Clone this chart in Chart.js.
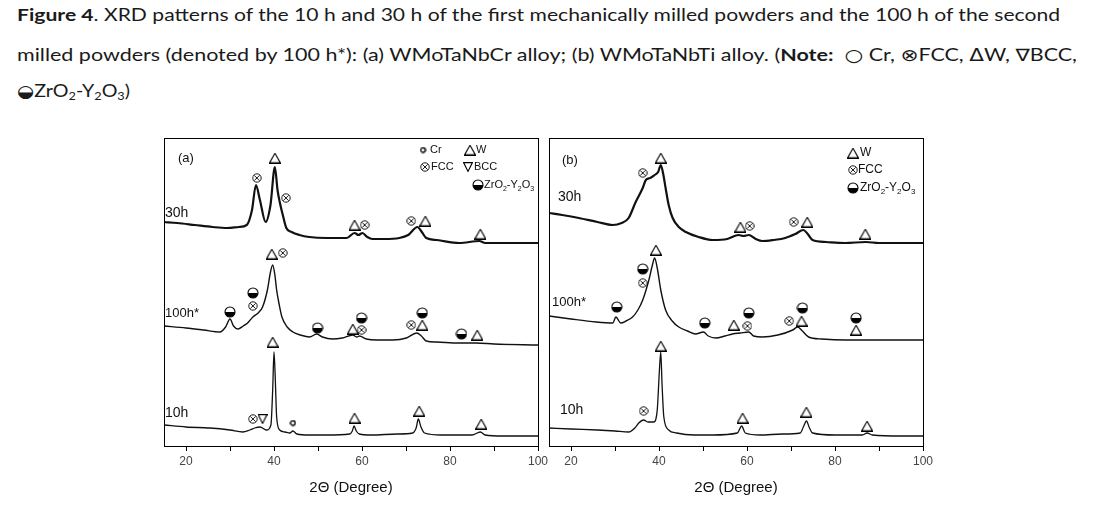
<!DOCTYPE html>
<html lang="en">
<head>
<meta charset="UTF-8">
<title>Figure 4 XRD patterns</title>
<script src="https://cdn.jsdelivr.net/npm/chart.js"></script>
<style>
    body { margin: 0; background: #fff; width: 1113px; height: 506px; overflow: hidden; position: relative; }
    .cap {
        position: absolute; left: 17px; white-space: nowrap;
        font-family: Lato, "Open Sans", sans-serif; font-size: 17px; line-height: 17px;
        color: #1a1a1a; transform-origin: 0 0;
    }
    .cap b { font-weight: 700; }
    .sym { font-family: "DejaVu Sans", sans-serif; font-size: 17px; }
    .cap sub { font-size: 11px; vertical-align: -3px; line-height: 0; }
    canvas { position: absolute; top: 128px; }
</style>
</head>
<body>
<div class="cap" style="top:6px" data-w="1043"><b>Figure 4</b>. XRD patterns of the 10 h and 30 h of the first mechanically milled powders and the 100 h of the second</div>
<div class="cap" style="top:46px" data-w="1060">milled powders (denoted by 100 h*): (a) WMoTaNbCr alloy; (b) WMoTaNbTi alloy. (<b>Note:</b> &nbsp;<span class="sym">○</span> Cr, <span class="sym">⊗</span>FCC, <span class="sym">Δ</span>W, <span class="sym">∇</span>BCC,</div>
<div class="cap" style="top:82px" data-w="113"><span class="sym">◒</span>ZrO<sub>2</sub>-Y<sub>2</sub>O<sub>3</sub>)</div>

<canvas id="panelA" width="420" height="378" style="left:140px"></canvas>
<canvas id="panelB" width="420" height="378" style="left:525px"></canvas>

<script>
// x ticks shared by both panels (2theta, degrees)
const tickVals = [20, 30, 40, 50, 60, 70, 80, 90, 100];

// ---- panel (a) WMoTaNbCr ----
const a30Deg = [15, 18, 22, 26, 29.3, 32, 33.8, 35, 35.9, 36.8, 38.1, 39.2, 40.2, 40.8, 41.3, 42, 42.8, 44, 45.8, 48, 52, 56.5, 58.3, 59.2, 60.1, 61.2, 62.4, 65, 68.5, 70.5, 72.6, 73.6, 74.6, 77, 82.1, 86.7, 88, 92, 100];
const a30Int = [224, 223, 221, 219, 218, 219, 221, 236, 261, 246, 224, 241, 279, 256, 244, 231, 218, 214, 211, 209, 208, 208, 213, 211, 213, 209, 207, 207, 208, 211, 219, 214, 208, 206, 203, 205, 203, 203, 203];

const a100Deg = [15, 20, 24, 27.7, 29, 30, 30.8, 31.8, 33, 34, 35.2, 36.4, 37.4, 38.5, 39.2, 39.7, 40.2, 40.6, 41.2, 41.8, 43, 44.3, 46, 48.1, 49.7, 51, 53.3, 55.5, 57.9, 58.8, 59.4, 61, 63.3, 67, 70.1, 72.4, 73.5, 74.6, 77, 82.1, 86, 90, 100];
const a100Int = [120, 118, 116, 114, 119, 127, 120, 117, 120, 123, 129, 133, 139, 156, 174, 181, 171, 156, 141, 129, 119, 114, 111, 109, 112, 109, 107, 108, 111, 109, 110, 107, 106, 106, 108, 113, 110, 105, 104, 103, 103, 102, 101];

const a10Deg = [15, 20, 25.4, 30, 32.9, 34.5, 35.6, 36.8, 38.3, 39.3, 39.7, 40, 40.3, 40.6, 41.3, 42.5, 43.6, 44.3, 45.2, 48, 52, 57.2, 57.8, 58.2, 58.7, 59.4, 62, 68, 71.5, 72.3, 72.8, 73.4, 74.2, 78, 85, 86.9, 88, 92, 100];
const a10Int = [21, 19, 18, 16, 14, 16, 18, 19, 16, 21, 56, 94, 66, 29, 16, 14, 13, 15, 12, 11, 11, 12, 15, 20, 15, 12, 11, 12, 13, 18, 27, 19, 13, 11, 11, 14, 11, 10, 10];

// phase markers: W = W (triangle), F = FCC, B = BCC, C = Cr, Z = ZrO2-Y2O3
const aMarkDeg = [36.1, 40.2, 42.7, 58.3, 60.6, 71.2, 74.4, 86.9,
                  39.5, 42.0, 35.2, 35.2, 30.0, 49.9, 57.9, 59.9, 59.9, 73.7, 71.2, 73.7, 82.6, 86.2,
                  39.7, 35.2, 37.4, 44.3, 58.3, 73.0, 87.1];
const aMarkInt = [268, 288, 248, 221, 221, 225, 225, 212,
                  192, 193, 153, 140, 134, 118, 117, 116, 128, 133, 121, 121, 112, 111,
                  104, 27, 27, 23, 28, 35, 22];
const aMarkKind = ['F', 'W', 'F', 'W', 'F', 'F', 'W', 'W',
                   'W', 'F', 'Z', 'F', 'Z', 'Z', 'W', 'F', 'Z', 'Z', 'F', 'W', 'Z', 'W',
                   'W', 'F', 'B', 'C', 'W', 'W', 'W'];

// ---- panel (b) WMoTaNbTi ----
const b30Deg = [15, 18, 21.8, 26, 29.5, 31.5, 33.1, 34.7, 36.3, 37, 38, 39, 39.8, 40.4, 41, 41.5, 42.2, 43.1, 44.5, 46.1, 49, 52.2, 55.5, 58.1, 59.2, 60.4, 62, 63.5, 66, 68.7, 71, 72.8, 73.8, 74.9, 78, 82.3, 87, 90, 100];
const b30Int = [233, 231, 228, 224, 221, 223, 228, 244, 258, 266, 268, 271, 274, 281, 271, 258, 241, 228, 219, 214, 209, 206, 207, 211, 210, 211, 207, 205, 206, 208, 212, 216, 212, 206, 204, 203, 204, 203, 203];

const b100Deg = [15, 20, 25.7, 29.5, 30.2, 31.3, 32.5, 34, 35.2, 36.3, 37.7, 38.5, 39, 39.6, 40.4, 41.5, 43, 44.5, 46.5, 48.3, 50.1, 51.2, 52.9, 55, 56.7, 58.5, 60.4, 61.5, 63.5, 67, 70.4, 71.5, 72.6, 74, 77, 82.3, 86, 92, 100];
const b100Int = [130, 127, 124, 123, 129, 123, 125, 129, 136, 146, 166, 181, 188, 178, 156, 136, 125, 119, 115, 112, 114, 110, 108, 110, 112, 113, 114, 110, 109, 111, 116, 119, 115, 109, 107, 106, 106, 106, 106];

const b10Deg = [15, 20, 26, 30, 33.1, 34.5, 35.4, 36.5, 37.5, 38.8, 39.6, 40.1, 40.4, 40.7, 41.1, 42.2, 44, 48, 52.2, 57.8, 58.8, 59.6, 63, 68, 72.1, 72.9, 73.5, 74.2, 74.9, 80, 86.2, 87.3, 88.5, 95, 100];
const b10Int = [18, 17, 16, 15, 14, 18, 23, 26, 24, 24, 36, 76, 94, 61, 29, 16, 13, 11, 11, 13, 20, 13, 11, 12, 13, 20, 25, 18, 13, 11, 11, 13, 11, 10, 10];

const bMarkDeg = [36.3, 40.4, 58.5, 60.6, 70.6, 73.7, 86.9,
                  39.3, 36.3, 36.3, 30.4, 50.4, 57.0, 60.1, 60.4, 69.6, 72.4, 72.6, 84.8, 84.8,
                  40.4, 36.5, 59.0, 73.5, 87.3];
const bMarkInt = [273, 288, 219, 220, 224, 224, 212,
                  196, 177, 163, 139, 123, 121, 120, 133, 125, 125, 138, 128, 116,
                  100, 35, 28, 34, 20];
const bMarkKind = ['F', 'W', 'W', 'F', 'F', 'W', 'W',
                   'W', 'Z', 'F', 'Z', 'Z', 'W', 'F', 'Z', 'F', 'W', 'Z', 'Z', 'W',
                   'W', 'F', 'W', 'W', 'W'];

// little canvases used as point styles
function makeSym(kind) {
    const c = document.createElement('canvas');
    if (kind === 'W') { c.width = 12; c.height = 11; }
    else if (kind === 'B') { c.width = 10; c.height = 10; }
    else if (kind === 'F') { c.width = 10; c.height = 10; }
    else if (kind === 'C') { c.width = 7; c.height = 7; }
    else { c.width = 12; c.height = 12; }
    const g = c.getContext('2d');
    g.strokeStyle = '#000';
    g.fillStyle = '#000';
    g.lineWidth = 1.1;
    g.beginPath();
    if (kind === 'W') {
        g.moveTo(6, 0.8); g.lineTo(11.4, 10.4); g.lineTo(0.6, 10.4); g.closePath(); g.stroke();
    } else if (kind === 'B') {
        g.moveTo(0.6, 0.6); g.lineTo(9.4, 0.6); g.lineTo(5, 9.4); g.closePath(); g.stroke();
    } else if (kind === 'F') {
        g.lineWidth = 0.9;
        g.arc(5, 5, 4.2, 0, Math.PI * 2); g.stroke();
        g.beginPath();
        g.moveTo(2.4, 2.4); g.lineTo(7.6, 7.6);
        g.moveTo(7.6, 2.4); g.lineTo(2.4, 7.6);
        g.stroke();
    } else if (kind === 'C') {
        g.lineWidth = 1.4;
        g.arc(3.5, 3.5, 2.3, 0, Math.PI * 2); g.stroke();
    } else {
        g.arc(6, 6, 5, 0, Math.PI); g.fill();
        g.beginPath(); g.arc(6, 6, 5, 0, Math.PI * 2); g.stroke();
    }
    return c;
}
const syms = {};
['W', 'F', 'B', 'C', 'Z'].forEach(k => syms[k] = makeSym(k));

function zipXY(xs, ys) {
    return xs.map((x, i) => ({ x: x, y: ys[i] }));
}

function chemLabel(ctx, x, y, size) {
    const parts = [['ZrO', 0], ['2', 1], ['-Y', 0], ['2', 1], ['O', 0], ['3', 1]];
    let cx = x;
    for (const [t, sub] of parts) {
        ctx.font = sub ? Math.round(size * 0.65) + 'px Arial' : size + 'px Arial';
        ctx.fillText(t, cx, sub ? y + 4 : y);
        cx += ctx.measureText(t).width;
    }
}

// frame, curve names and the little legend inside each panel
const decoPlugin = {
    id: 'deco',
    afterDraw(chart) {
        const d = chart.options.plugins.deco;
        const { left, top, width, height } = chart.chartArea;
        const ctx = chart.ctx;
        ctx.save();
        ctx.strokeStyle = '#000';
        ctx.lineWidth = 1;
        ctx.strokeRect(left + 0.5, top + 0.5, width, height);
        ctx.fillStyle = '#111';
        ctx.textBaseline = 'middle';
        ctx.textAlign = 'left';
        for (const lab of d.labels) {
            ctx.font = lab[3] + 'px Arial';
            ctx.fillText(lab[0], left + lab[1], top + lab[2]);
        }
        for (const it of d.legend) {
            const s = syms[it[0]];
            ctx.drawImage(s, left + it[1] - s.width / 2, top + it[2] - s.height / 2);
            if (it[3] === 'chem') chemLabel(ctx, left + it[4], top + it[2], d.legendSize);
            else { ctx.font = d.legendSize + 'px Arial'; ctx.fillText(it[3], left + it[4], top + it[2]); }
        }
        ctx.restore();
    }
};

function makePanel(id, curves, mDeg, mInt, mKind, deco) {
    const datasets = [];
    ['W', 'F', 'B', 'C', 'Z'].forEach(k => {
        const pts = [];
        mKind.forEach((kk, i) => { if (kk === k) pts.push({ x: mDeg[i], y: mInt[i] }); });
        if (pts.length) {
            datasets.push({
                type: 'scatter', data: pts, pointStyle: syms[k], pointRadius: 5,
                showLine: false, order: 0
            });
        }
    });
    curves.forEach(c => {
        datasets.push({
            data: zipXY(c[0], c[1]), borderColor: '#111', borderWidth: c[2],
            pointRadius: 0, fill: false, cubicInterpolationMode: 'monotone', order: 1
        });
    });
    return new Chart(document.getElementById(id), {
        type: 'line',
        data: { datasets: datasets },
        options: {
            responsive: false,
            animation: false,
            devicePixelRatio: 1,
            layout: { padding: { left: 24, right: 22, top: 10, bottom: 0 } },
            scales: {
                x: {
                    type: 'linear', min: 15, max: 100,
                    afterBuildTicks: s => { s.ticks = tickVals.map(v => ({ value: v })); },
                    afterFit: s => { s.height = 60; },
                    ticks: {
                        callback: v => (v % 20 === 0 ? v : ''),
                        font: { family: 'Arial', size: 12 }, color: '#444',
                        padding: 3, maxRotation: 0, autoSkip: false
                    },
                    grid: { drawOnChartArea: false, drawTicks: true, tickLength: 5, color: '#000' },
                    border: { display: false },
                    title: {
                        display: true, text: '2Θ (Degree)', color: '#111',
                        font: { family: 'Arial', size: 15 }, padding: { top: 4, bottom: 9 }
                    }
                },
                y: { display: false, min: 0, max: 308 }
            },
            plugins: {
                legend: { display: false },
                tooltip: { enabled: false },
                deco: deco
            }
        },
        plugins: [decoPlugin]
    });
}

makePanel('panelA',
    [[a30Deg, a30Int, 2.2], [a100Deg, a100Int, 1.4], [a10Deg, a10Int, 1.3]],
    aMarkDeg, aMarkInt, aMarkKind,
    {
        legendSize: 11,
        labels: [['(a)', 14, 20, 13], ['30h', 1, 75, 14], ['100h*', 1, 175, 13], ['10h', 1, 275, 14]],
        legend: [['C', 259, 12, 'Cr', 266], ['W', 306, 12, 'W', 312],
                 ['F', 261, 29, 'FCC', 267], ['B', 304, 29, 'BCC', 310],
                 ['Z', 314, 47, 'chem', 320]]
    });

makePanel('panelB',
    [[b30Deg, b30Int, 2.2], [b100Deg, b100Int, 1.4], [b10Deg, b10Int, 1.3]],
    bMarkDeg, bMarkInt, bMarkKind,
    {
        legendSize: 12,
        labels: [['(b)', 13, 22, 13], ['30h', 9, 59, 14], ['100h*', 3, 164, 13], ['10h', 11, 272, 14]],
        legend: [['W', 304, 15, 'W', 311],
                 ['F', 304, 32, 'FCC', 309],
                 ['Z', 304, 50, 'chem', 311]]
    });

// squeeze caption lines to the widths seen in the figure
document.querySelectorAll('.cap').forEach(el => {
    const w = el.getBoundingClientRect().width;
    el.style.transform = 'scaleX(' + (Number(el.dataset.w) / w) + ')';
});
</script>
</body>
</html>
